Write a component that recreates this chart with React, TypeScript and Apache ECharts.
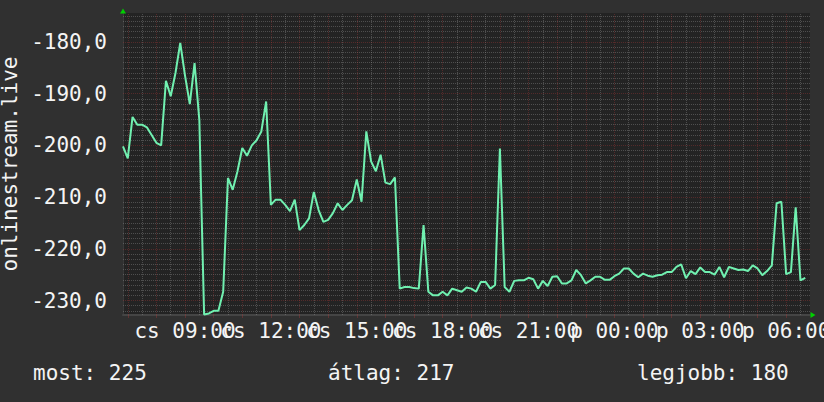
import React, { useEffect, useRef } from 'react';
import * as echarts from 'echarts';

// 10-minute samples starting Thursday (cs) 06:50, ending Friday (p) 06:50
const startMinutes = 6 * 60 + 50;
const stepMinutes = 10;
const dayPrefixes = ['cs', 'p'];

const values: (number | null)[] = [
  -200.2, -202.5, -194.5, -196, -196, -196.5, -198, -199.5, -200, -187.5,
  -190.5, -186, -180.2, -186.5, -192, -184.1, -195.1, -232.7, -232.5, -232,
  -232, -228.3, -206.3, -208.6, -205, -200.5, -202, -200, -199, -197.3,
  -191.5, -211.5, -210.5, -210.5, -211.5, -212.7, -210.5, -216.4, -215.4, -214.1,
  -209, -212.5, -214.8, -214.4, -213.1, -211.2, -212.5, -211.5, -210.6, -206.6,
  -210.9, -197.3, -203.1, -205, -201.8, -207.2, -207.5, -206.2, -227.7, -227.4,
  -227.4, -227.6, -227.7, -215.4, -228.3, -229, -229, -228.3, -229, -227.7,
  -228, -228.3, -227.5, -227.7, -228.3, -226.4, -226.4, -227.7, -227, -200.6,
  -227.4, -228.3, -226.2, -226.1, -226.1, -225.6, -225.9, -227.7, -226.2, -227.2,
  -225.4, -225.3, -226.7, -226.7, -226.1, -224.1, -225.1, -226.7, -226.1, -225.4,
  -225.4, -226, -226, -225.3, -224.8, -223.8, -223.8, -224.8, -225.5, -224.8,
  -225.2, -225.4, -225.1, -225, -224.5, -224.5, -223.5, -223, -225.7, -224.3,
  -224.9, -223.6, -224.5, -224.5, -225, -223.5, -225.5, -223.5, -223.8, -224.1,
  -224, -224.3, -223.2, -223.8, -225.1, -224.3, -223.2, -211.2, -210.9, -224.9,
  -224.5, -212, -226.1, -225.6, null,
];

const categories: string[] = values.map((_, i) => {
  const t = startMinutes + i * stepMinutes;
  const day = Math.floor(t / 1440);
  const m = t % 1440;
  const hh = String(Math.floor(m / 60)).padStart(2, '0');
  const mm = String(m % 60).padStart(2, '0');
  return `${dayPrefixes[day]} ${hh}:${mm}`;
});

// tick labels, split into two alternating sets so that neither set overlaps itself
const xTickLabelsA = ['cs 09:00', 'cs 15:00', 'cs 21:00', 'p 03:00'];
const xTickLabelsB = ['cs 12:00', 'cs 18:00', 'p 00:00', 'p 06:00'];
const xHourLines = categories.filter((c) => c.endsWith(':00'));
const xHalfHourLines = categories.filter((c) => c.endsWith(':30'));
const yMajor = [-180, -190, -200, -210, -220, -230];
const yMinor: number[] = [];
for (let v = -175; v >= -232; v--) if (!yMajor.includes(v)) yMinor.push(v);
const yMin = -232.8;
const yMax = -174.4;

const statTexts = ['most: 225', 'átlag: 217', 'legjobb: 180'];
const statLefts = [33, 328, 637];
const yAxisName = 'onlinestream.live';

const FONT = "'DejaVu Sans Mono', monospace";
const TEXT = '#f4f4f4';
const RED = 'rgba(190,60,60,0.32)';
const GRAY = 'rgba(150,150,150,0.38)';

export default function App() {
  const ref = useRef<HTMLDivElement>(null);
  useEffect(() => {
    if (!ref.current) return;
    const chart = echarts.init(ref.current, undefined, { renderer: 'svg' });
    const dotted = (color: string) => ({ color, type: [1, 1], width: 1 });
    const labelAxis = (labels: string[], showLine: boolean) => ({
      type: 'category',
      data: categories,
      boundaryGap: false,
      position: 'bottom',
      axisLine: showLine
        ? { show: true, lineStyle: { color: '#454545', width: 2 } }
        : { show: false },
      axisTick: showLine
        ? {
            show: true,
            interval: (_i: number, v: string) => v.endsWith(':00'),
            length: 3,
            lineStyle: { color: RED },
          }
        : { show: false },
      axisLabel: {
        interval: (_i: number, v: string) => labels.includes(v),
        hideOverlap: false,
        color: TEXT, fontSize: 21, fontFamily: FONT, margin: 5,
      },
      splitLine: { show: false },
    });
    const option: any = {
      animation: false,
      backgroundColor: '#303030',
      textStyle: { fontFamily: FONT },
      title: statTexts.map((t, k) => ({
        text: t,
        left: statLefts[k],
        top: 362,
        padding: 0,
        textStyle: { color: TEXT, fontSize: 21, fontWeight: 'normal', fontFamily: FONT },
      })),
      grid: {
        left: 123, right: 14, top: 13, bottom: 87,
        show: true, backgroundColor: '#232323', borderWidth: 0,
        containLabel: false,
        outerBoundsMode: 'none',
      },
      xAxis: [
        labelAxis(xTickLabelsA, true),
        labelAxis(xTickLabelsB, false),
        {
          type: 'category',
          data: categories,
          boundaryGap: false,
          position: 'bottom',
          axisLine: {
            show: true,
            symbol: ['none', 'triangle'],
            symbolSize: [6, 5],
            symbolOffset: [0, 3],
            lineStyle: { color: '#00d000', width: 0 },
          },
          axisTick: { show: false },
          axisLabel: { show: false },
          splitLine: { show: false },
        },
      ],
      yAxis: [
        {
          type: 'value',
          min: yMin,
          max: yMax,
          splitNumber: 5,
          position: 'left',
          axisLine: { show: true, lineStyle: { color: '#3a3a3a' } },
          axisTick: { show: false },
          splitLine: { show: false },
          axisLabel: {
            color: TEXT, fontSize: 21, fontFamily: FONT, margin: 16,
            formatter: (v: number) => {
              const r = Math.round(v / 10) * 10;
              return Math.abs(v - r) < 1e-6 ? r.toFixed(1).replace('.', ',') : '';
            },
          },
          name: yAxisName,
          nameLocation: 'middle',
          nameGap: 103,
          nameTextStyle: { color: TEXT, fontSize: 21, fontFamily: FONT },
        },
        {
          type: 'value',
          min: yMin,
          max: yMax,
          position: 'left',
          axisLine: {
            show: true,
            symbol: ['none', 'triangle'],
            symbolSize: [6, 5],
            symbolOffset: [0, 2],
            lineStyle: { color: '#00d000', width: 0 },
          },
          axisTick: { show: false },
          axisLabel: { show: false },
          splitLine: { show: false },
        },
      ],
      series: [
        {
          type: 'line',
          data: values,
          xAxisIndex: 0,
          yAxisIndex: 0,
          symbol: 'none',
          showSymbol: false,
          connectNulls: false,
          lineStyle: { color: '#70f0b0', width: 2 },
          z: 3,
          markLine: {
            silent: true,
            z: 1,
            symbol: ['none', 'none'],
            label: { show: false },
            animation: false,
            data: [
              ...xHalfHourLines.map((c) => ({ xAxis: c, lineStyle: dotted(GRAY) })),
              ...yMinor.map((v) => ({ yAxis: v, lineStyle: dotted(GRAY) })),
              ...xHourLines.map((c) => ({ xAxis: c, lineStyle: dotted(RED) })),
              ...yMajor.map((v) => ({ yAxis: v, lineStyle: dotted(RED) })),
            ],
          },
        },
      ],
    };
    chart.setOption(option);
    return () => chart.dispose();
  }, []);
  return (
    <div
      ref={ref}
      style={{ position: 'absolute', left: 0, top: 0, width: 824, height: 402, background: '#303030' }}
    />
  );
}
